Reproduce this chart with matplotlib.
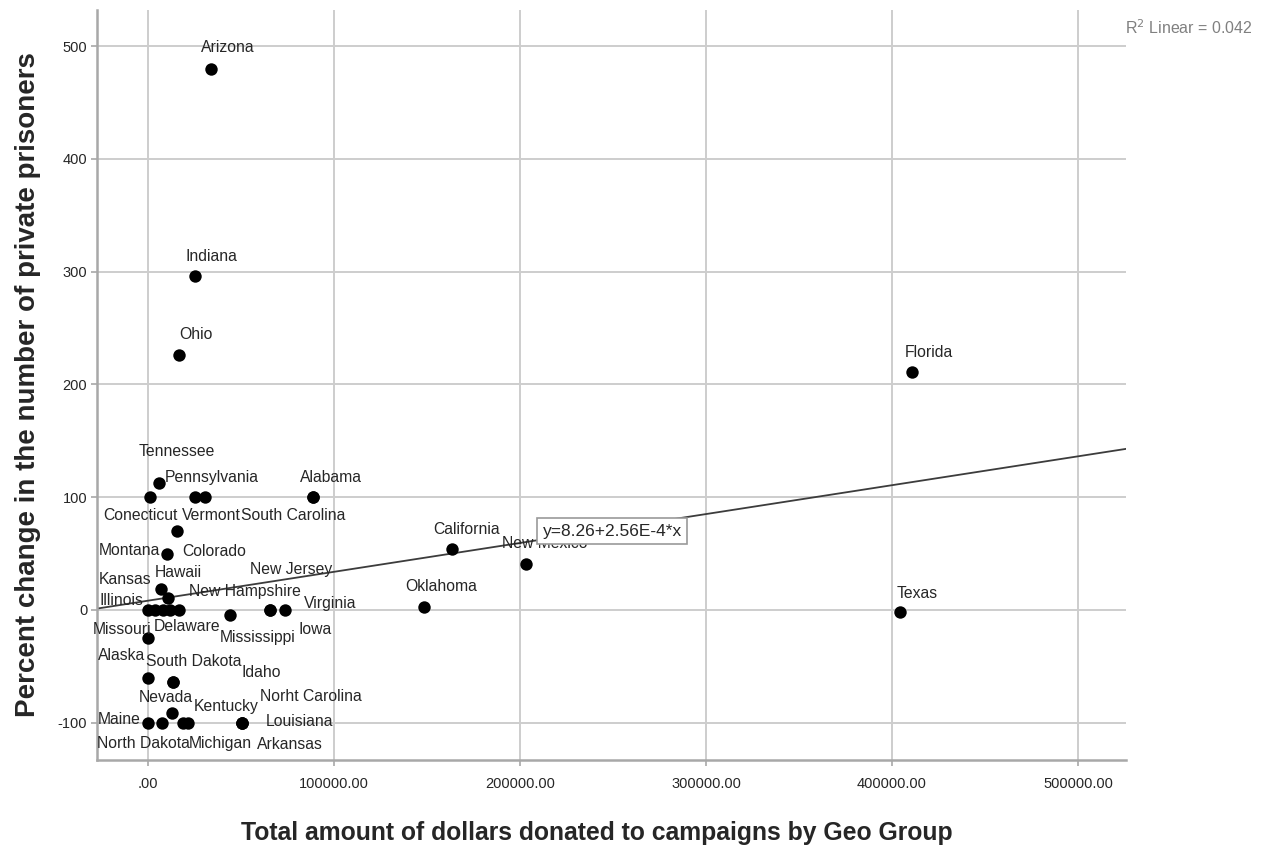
#!/usr/bin/env python3
"""Scatter of Geo Group campaign donations vs change in private prisoners, by state."""

import matplotlib

matplotlib.use("Agg")
import matplotlib.pyplot as plt
import numpy as np

plt.rcParams["font.family"] = ["Liberation Sans", "DejaVu Sans"]
plt.rcParams["axes.unicode_minus"] = False

# data (donations in dollars, change in percent)
STATES = [
    "Arizona", "Indiana", "Ohio", "Florida", "Tennessee", "Pennsylvania",
    "Vermont", "Conecticut", "Alabama", "South Carolina", "Colorado", "Montana",
    "Kansas", "Hawaii", "Illinois", "Utah", "Wyoming", "Delaware",
    "New Hampshire", "Mississippi", "New Jersey", "Iowa", "Virginia",
    "Missouri", "Alaska", "South Dakota", "Idaho", "Nevada", "Maine",
    "North Dakota", "Michigan", "Kentucky", "Louisiana", "Norht Carolina",
    "Arkansas", "Oklahoma", "California", "New Mexico", "Texas",
]
DONATIONS = [
    33900, 25300, 16700, 410800, 5900, 25300,
    30600, 1100, 88700, 88700, 15600, 10200,
    7000, 10700, 0, 3800, 8000, 12000,
    16500, 44100, 65600, 65600, 73700,
    0, 0, 13400, 13400, 12900, 0,
    7500, 18800, 21500, 50500, 50500,
    50500, 148400, 163400, 203200, 404300,
]
PCT_CHANGE = [
    480, 296, 226, 211, 113, 100,
    100, 100, 100, 100, 70, 50,
    19, 11, 0, 0, 0, 0,
    0, -4, 0, 0, 0,
    -25, -60, -64, -64, -91, -100,
    -100, -100, -100, -100, -100,
    -100, 3, 54, 41, -2,
]
FIT_INTERCEPT = 8.26
FIT_SLOPE = 2.56e-4
R2_LINEAR = 0.042

# label placement: offset of the label centre from its point, in pixels (x right, y down)
LABEL_OFFSETS = {
    "Arizona": (17, -21), "Indiana": (16, -20), "Ohio": (17, -21),
    "Florida": (17, -20), "Tennessee": (18, -31), "Pennsylvania": (17, -20),
    "Vermont": (6, 18), "Conecticut": (-10, 18), "Alabama": (18, -20),
    "South Carolina": (-20, 18), "Colorado": (37, 20), "Montana": (-38, -3),
    "Kansas": (-36, -9), "Hawaii": (10, -25), "Illinois": (-27, -9),
    "Delaware": (17, 17), "New Hampshire": (66, -18), "Mississippi": (28, 23),
    "New Jersey": (21, -40), "Iowa": (45, 20), "Virginia": (45, -6),
    "Missouri": (-26, -9), "Alaska": (-26, -22), "South Dakota": (21, -21),
    "Idaho": (88, -10), "Nevada": (-6, -15), "Maine": (-29, -3),
    "North Dakota": (-19, 21), "Michigan": (37, 21), "Kentucky": (38, -16),
    "Louisiana": (58, -1), "Norht Carolina": (69, -26), "Arkansas": (48, 22),
    "Oklahoma": (17, -20), "California": (15, -20), "New Mexico": (19, -20),
    "Texas": (17, -19),
}

GRID = "#cdcdcd"
SPINE = "#a8a8a8"
TEXT = "#262626"


def main() -> None:
    fig = plt.figure(figsize=(12.67, 8.5), dpi=100)
    ax = fig.add_axes([0.0766, 0.1059, 0.8121, 0.8823])

    ax.set_xlim(-27400, 525800)
    ax.set_ylim(-133, 532)

    ax.grid(True, color=GRID, linewidth=1.4)
    ax.set_axisbelow(True)
    for side in ("top", "right"):
        ax.spines[side].set_visible(False)
    for side in ("left", "bottom"):
        ax.spines[side].set_color(SPINE)
        ax.spines[side].set_linewidth(1.8)

    ax.set_xticks(np.arange(0, 500001, 100000))
    ax.set_xticklabels([".00"] + [f"{v}.00" for v in range(100000, 500001, 100000)])
    ax.set_yticks(np.arange(-100, 501, 100))
    ax.tick_params(axis="both", colors=SPINE, length=4, width=1.2,
                   labelsize=10.5, labelcolor=TEXT)
    ax.tick_params(axis="x", pad=8)
    ax.tick_params(axis="y", pad=3)

    # regression line across the full x range
    x_line = np.array(ax.get_xlim())
    ax.plot(x_line, FIT_INTERCEPT + FIT_SLOPE * x_line, color="#3c3c3c",
            linewidth=1.3, zorder=2)

    ax.scatter(DONATIONS, PCT_CHANGE, s=80, color="black", zorder=3,
               linewidths=0)

    for name, x, y in zip(STATES, DONATIONS, PCT_CHANGE):
        if name not in LABEL_OFFSETS:
            continue
        dx, dy = LABEL_OFFSETS[name]
        ax.annotate(name, (x, y), textcoords="offset pixels", xytext=(dx, -dy),
                    ha="center", va="center", fontsize=11.3, color=TEXT, zorder=4)

    ax.text(249500, 70, f"y={FIT_INTERCEPT}+{FIT_SLOPE * 1e4:.2f}E-4*x",
            ha="center", va="center", fontsize=12.5, color=TEXT, zorder=6,
            bbox=dict(boxstyle="square,pad=0.3", facecolor="white",
                      edgecolor="#9a9a9a", linewidth=1.2))

    fig.text(0.989, 0.968, f"R$^2$ Linear = {R2_LINEAR}", ha="right",
             va="center", fontsize=11.5, color="#808080")

    ax.set_xlabel("Total amount of dollars donated to campaigns by Geo Group",
                  fontsize=17.8, fontweight="bold", color=TEXT)
    ax.xaxis.set_label_coords(0.486, -0.082)
    ax.set_ylabel("Percent change in the number of private prisoners",
                  fontsize=20, fontweight="bold", color=TEXT, labelpad=12)

    fig.savefig("out.png", dpi=100)
    plt.close(fig)


if __name__ == "__main__":
    main()
